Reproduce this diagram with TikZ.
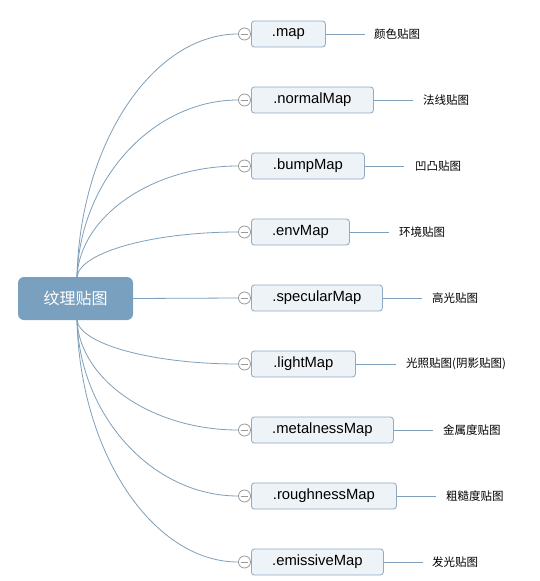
\documentclass[tikz,border=0pt]{standalone}
\usepackage{fontspec}
\setmainfont{Liberation Sans}
\newfontfamily\cjk{Noto Sans CJK SC}
\definecolor{rootblue}{HTML}{79A1BF}
\definecolor{boxfill}{HTML}{EEF3F7}
\definecolor{boxborder}{HTML}{8FAAC2}
\definecolor{linecol}{HTML}{7F9FBA}
\definecolor{knobcol}{HTML}{9A9A9A}
\begin{document}
\begin{tikzpicture}[x=1pt,y=-1pt,
  rootbox/.style={rectangle, rounded corners=6pt, fill=rootblue, text=white, minimum width=115, minimum height=43, inner sep=0, font=\cjk\fontsize{16}{18}\selectfont},
  childbox/.style={rectangle, rounded corners=3pt, draw=boxborder, fill=boxfill, line width=0.8, minimum height=26, inner sep=0, font=\fontsize{14.8}{16}\selectfont},
  lbl/.style={anchor=west, inner sep=0, font=\cjk\fontsize{11.5}{13}\selectfont},
  knob/.style={circle, draw=knobcol, fill=white, line width=0.8, minimum size=12, inner sep=0},
  conn/.style={draw=linecol, line width=0.8}]
\useasboundingbox[fill=white] (0,0) rectangle (540,581);
\node[rootbox] (root) at (75.5,298.5) {纹理贴图};
\foreach \i/\t/\w/\y/\le/\lx/\lab in {
  1/.map/74/34/365/374/颜色贴图,
  2/.normalMap/122/100/413/423/法线贴图,
  3/.bumpMap/113/166/404/415/凹凸贴图,
  4/.envMap/98/232/389/399/环境贴图,
  5/.specularMap/131/298/422/432/高光贴图,
  6/.lightMap/104/364/396/406/光照贴图(阴影贴图),
  7/.metalnessMap/142/430/433/443/金属度贴图,
  8/.roughnessMap/145/496/436/446/粗糙度贴图,
  9/.emissiveMap/132/562/423/432/发光贴图}{
  \node[childbox, anchor=west, minimum width=\w] (b\i) at (251,\y) {\t};
  \node[knob] (k\i) at (244.5,\y) {};
  \draw[knobcol, line width=0.8] ([xshift=2.5]k\i.west) -- ([xshift=-2.5]k\i.east);
  \coordinate (e\i) at (\le,\y);
  \draw[conn] (b\i.east) -- (e\i);
  \node[lbl] (l\i) at (\lx,\y) {\lab};
}
\foreach \i/\y in {1/34,2/100,3/166,4/232}{
  \draw[conn] ([xshift=1.5]root.north) .. controls +(3,{(\y-277)*0.55}) and +(-85,0) .. (k\i.west);
}
\foreach \i/\y in {6/364,7/430,8/496,9/562}{
  \draw[conn] ([xshift=1.5]root.south) .. controls +(3,{(\y-320)*0.55}) and +(-85,0) .. (k\i.west);
}
\draw[conn] (root.east) -- (k5.west);
\end{tikzpicture}
\end{document}
